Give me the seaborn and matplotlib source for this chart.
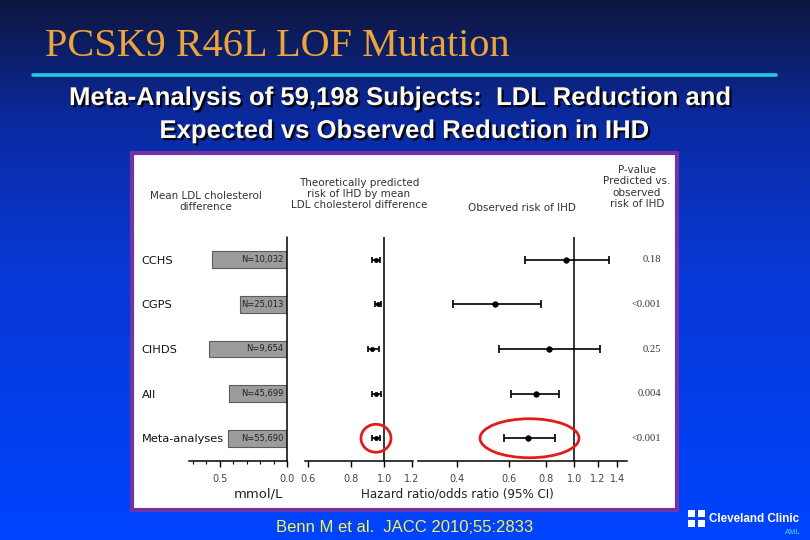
import numpy as np
import pandas as pd
import matplotlib
matplotlib.use("Agg")
import matplotlib.pyplot as plt
import matplotlib.transforms as mtrans
import matplotlib.patheffects as pe
from matplotlib.patches import Rectangle, Ellipse
from matplotlib.colors import LinearSegmentedColormap
import seaborn as sns

# data
cohorts = ["CCHS", "CGPS", "CIHDS", "All", "Meta-analyses"]
n_labels = ["N=10,032", "N=25,013", "N=9,654", "N=45,699", "N=55,690"]
ldl_diff = [0.56, 0.35, 0.58, 0.43, 0.44]          # mmol/L
pred_hr = [0.946, 0.957, 0.92, 0.946, 0.946]        # theoretically predicted
pred_lo = [0.92, 0.94, 0.90, 0.92, 0.92]
pred_hi = [0.972, 0.976, 0.967, 0.976, 0.972]
obs_hr = [0.94, 0.54, 0.82, 0.74, 0.70]             # observed
obs_lo = [0.68, 0.39, 0.555, 0.61, 0.58]
obs_hi = [1.31, 0.77, 1.22, 0.89, 0.86]
p_values = ["0.18", "<0.001", "0.25", "0.004", "<0.001"]

W, H = 810, 540


def fx(px):
    return px / W


def fy(py):
    return 1 - py / H


sns.set_theme(style="white")
plt.rcParams["font.family"] = ["DejaVu Sans"]

fig = plt.figure(figsize=(8.1, 5.4), dpi=100)

# slide background gradient
bg = fig.add_axes([0, 0, 1, 1], zorder=0)
cmap = LinearSegmentedColormap.from_list(
    "slide", [(0.0, "#0e163e"), (0.22, "#0a2a9e"), (0.5, "#0838d6"), (1.0, "#0044ff")])
bg.imshow(np.linspace(0, 1, 256).reshape(-1, 1), cmap=cmap, aspect="auto",
          extent=[0, 1, 0, 1], origin="upper")
bg.set_axis_off()

# title, rule, subtitle
fig.text(fx(45), fy(47), "PCSK9 R46L LOF Mutation", fontsize=29,
         family="Liberation Serif", color="#eca43c", va="center", ha="left")
fig.add_artist(plt.Line2D([fx(33), fx(776)], [fy(75), fy(75)], color="#22c8e0",
                          lw=2.6, transform=fig.transFigure))
shadow = [pe.withSimplePatchShadow(offset=(1.6, -1.6), shadow_rgbFace="#000010", alpha=0.9)]
fig.text(fx(401), fy(98), "Meta-Analysis of 59,198 Subjects:  LDL Reduction and",
         fontsize=18.5, family="Liberation Sans", weight="bold", color="#fffbe8",
         ha="center", va="center", path_effects=shadow)
fig.text(fx(405), fy(131), "Expected vs Observed Reduction in IHD",
         fontsize=18.5, family="Liberation Sans", weight="bold", color="#fffbe8",
         ha="center", va="center", path_effects=shadow)

# white panel with purple frame
fig.add_artist(Rectangle((fx(132), fy(509.5)), fx(677) - fx(132), fy(153.5) - fy(509.5),
                         transform=fig.transFigure, facecolor="white",
                         edgecolor="#7034a6", lw=3, zorder=1))

top, bottom = 237, 461
ax_bot, ax_h = fy(bottom), fy(top) - fy(bottom)
ax1 = fig.add_axes([fx(189), ax_bot, fx(287) - fx(189), ax_h], zorder=2)
ax2 = fig.add_axes([fx(305), ax_bot, fx(413) - fx(305), ax_h], zorder=2)
ax3 = fig.add_axes([fx(418), ax_bot, fx(627) - fx(418), ax_h], zorder=2)

df = pd.DataFrame({"cohort": cohorts, "ldl": ldl_diff})
rows = np.arange(len(cohorts))
tick_col = "#444444"

# left panel: mean LDL difference bars
sns.barplot(data=df, x="ldl", y="cohort", orient="h", color="#9c9c9c",
            edgecolor="#5c5c5c", linewidth=0.8, width=0.38, saturation=1, ax=ax1)
ax1.set_xlim(0.73, 0)
ax1.set_xticks([0.5, 0.0])
ax1.set_xticklabels(["0.5", "0.0"])
ax1.set_xticks(np.arange(0.1, 0.71, 0.1), minor=True)
ax1.axvline(0, color="black", lw=1.1, clip_on=False)
ax1.set_yticks(rows)
ax1.set_yticklabels(cohorts)
ax1.tick_params(axis="y", length=0, pad=34, labelsize=8.2, labelcolor="#111111")
for lbl in ax1.get_yticklabels():
    lbl.set_horizontalalignment("left")
for i, n in enumerate(n_labels):
    ax1.annotate(n, (0, i), xytext=(-2.5, 0), textcoords="offset points",
                 ha="right", va="center", fontsize=6, color="#222222")

# middle panel: predicted risk
ax2.set_xscale("log")
ax2.errorbar(pred_hr, rows, xerr=[np.subtract(pred_hr, pred_lo), np.subtract(pred_hi, pred_hr)],
             fmt="none", ecolor="black", elinewidth=1.2, capsize=2.2, capthick=1.2)
sns.scatterplot(x=pred_hr, y=rows, ax=ax2, color="black", s=9, marker="o",
                edgecolor="black", linewidth=0.5, zorder=3)
ax2.set_xlim(0.59, 1.21)
ax2.set_xticks([0.6, 0.8, 1.0, 1.2])
ax2.set_xticklabels(["0.6", "0.8", "1.0", "1.2"])
ax2.axvline(1.0, color="black", lw=1.1)

# right panel: observed risk
ax3.set_xscale("log")
ax3.errorbar(obs_hr, rows, xerr=[np.subtract(obs_hr, obs_lo), np.subtract(obs_hi, obs_hr)],
             fmt="none", ecolor="black", elinewidth=1.2, capsize=3, capthick=1.2)
sns.scatterplot(x=obs_hr, y=rows, ax=ax3, color="black", s=16, marker="o",
                edgecolor="black", linewidth=0.5, zorder=3)
ax3.set_xlim(0.296, 1.51)
ax3.set_xticks([0.4, 0.6, 0.8, 1.0, 1.2, 1.4])
ax3.set_xticklabels(["0.4", "0.6", "0.8", "1.0", "1.2", "1.4"])
ax3.axvline(1.0, color="black", lw=1.1)

for ax in (ax1, ax2, ax3):
    ax.set_facecolor("none")
    ax.set_ylim(len(cohorts) - 0.49, -0.51)
    ax.set_xlabel("")
    ax.set_ylabel("")
    sns.despine(ax=ax, left=True)
    ax.spines["bottom"].set_color("black")
    ax.spines["bottom"].set_linewidth(1.1)
    ax.tick_params(axis="x", which="both", bottom=True, direction="out", color="black",
                   labelsize=7, labelcolor=tick_col, pad=5)
    ax.tick_params(axis="x", which="major", length=4, width=1)
    ax.tick_params(axis="x", which="minor", length=2.5, width=0.8)
for ax in (ax2, ax3):
    ax.xaxis.set_minor_locator(matplotlib.ticker.NullLocator())
    ax.set_yticks([])

# p-values column
pv_trans = mtrans.blended_transform_factory(fig.transFigure, ax3.transData)
for i, p in enumerate(p_values):
    fig.text(fx(661), i, p, transform=pv_trans, ha="right", va="center",
             fontsize=7.6, family="Liberation Serif", color="#333333", zorder=3)

# column headers
hdr = dict(ha="center", va="center", fontsize=7.5, color="#333333", linespacing=1.15)
fig.text(fx(206), fy(201.5), "Mean LDL cholesterol\ndifference", **hdr)
fig.text(fx(359), fy(194), "Theoretically predicted\nrisk of IHD by mean\nLDL cholesterol difference", **hdr)
fig.text(fx(522), fy(208), "Observed risk of IHD", **hdr)
fig.text(fx(637), fy(187), "P-value\nPredicted vs.\nobserved\nrisk of IHD", **hdr)

# axis titles
fig.text(fx(258), fy(494), "mmol/L", ha="center", va="center", fontsize=9.5, color="#222222")
fig.text(fx(457), fy(494), "Hazard ratio/odds ratio (95% CI)", ha="center", va="center",
         fontsize=8.6, color="#222222")

# red highlight rings round the meta-analysis row
meta = len(cohorts) - 1
for ax, xc, w, h in [(ax2, pred_hr[meta], 0.30, 0.28),
                     (ax3, np.sqrt(obs_lo[meta] * obs_hi[meta]), 0.99, 0.39)]:
    tr = fig.dpi_scale_trans + mtrans.ScaledTranslation(xc, meta, ax.transData)
    fig.add_artist(Ellipse((0, 0), w, h, transform=tr, fill=False,
                           edgecolor="#e01c1c", lw=2, zorder=5))

# citation and logo
fig.text(fx(405), fy(527), "Benn M et al.  JACC 2010;55:2833", ha="center", va="center",
         fontsize=12, family="Liberation Sans", color="#f2f25a")
for dx, dy in [(0, 0), (10, 0), (0, 10), (10, 10)]:
    fig.add_artist(Rectangle((fx(688 + dx), fy(517 + dy)), 7 / W, 7 / H,
                             transform=fig.transFigure, facecolor="white",
                             edgecolor="none", zorder=3))
fig.text(fx(709), fy(519), "Cleveland Clinic", ha="left", va="center", fontsize=8.4,
         family="Liberation Sans", weight="bold", color="white")
fig.text(fx(801), fy(533), "AML", ha="right", va="center", fontsize=5.5,
         family="Liberation Sans", color="#40e0ff")

fig.savefig("out.png", dpi=100)
